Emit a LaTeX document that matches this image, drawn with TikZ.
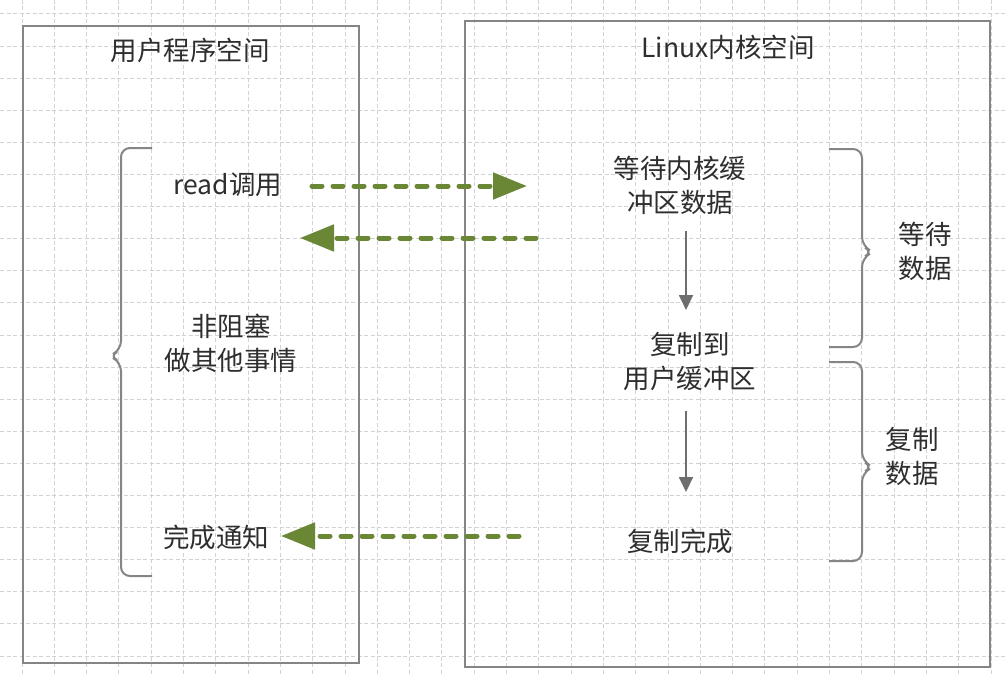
\documentclass[tikz,border=0pt]{standalone}
\usepackage{fontspec}
\setmainfont{Noto Sans CJK SC}
\usetikzlibrary{arrows.meta}
\definecolor{gridc}{HTML}{D2D2D2}
\definecolor{boxc}{HTML}{858585}
\definecolor{greenc}{HTML}{6A8736}
\definecolor{txtc}{HTML}{2E2E2E}
\definecolor{arrc}{HTML}{6E6E6E}
\tikzset{
  gridline/.style={draw=gridc, line width=1pt, dash pattern=on 4pt off 2.5pt},
  panel/.style={draw=boxc, line width=2.2pt},
  lbl/.style={text=txtc, font=\fontsize{26.5}{34}\selectfont, align=center, inner sep=0pt},
  garrow/.style={draw=greenc, line width=5pt, line cap=round, dash pattern=on 10pt off 11pt,
     -{Triangle[length=34pt,width=26pt,fill=greenc,line cap=butt]}},
  karrow/.style={draw=arrc, line width=1.8pt, -{Triangle[length=15pt,width=14pt]}},
  bracec/.style={draw=boxc, line width=2pt, rounded corners=9pt},
}
\begin{document}
\begin{tikzpicture}[x=1pt,y=-1pt]
\useasboundingbox (0,0) rectangle (1006,674);
\fill[white] (0,0) rectangle (1006,674);
% grid
\foreach \k in {0,...,30} { \draw[gridline] ({22+32.3*\k},0) -- ({22+32.3*\k},674); }
\foreach \k in {0,...,20} { \draw[gridline] (0,{14+32.1*\k}) -- (1006,{14+32.1*\k}); }
% panels
\node[panel, minimum width=336pt, minimum height=637pt, inner sep=0pt] (user) at (191,344.5) {};
\node[panel, minimum width=525pt, minimum height=646pt, inner sep=0pt] (kernel) at (727.5,344) {};
% titles
\node[lbl] (usertitle) at (190,50) {用户程序空间};
\node[lbl] (kerneltitle) at (728,47) {Linux内核空间};
% left texts
\node[lbl] (read) at (228,185) {read调用};
\node[lbl] (nonblock) at (231,343) {非阻塞\\做其他事情};
\node[lbl] (notify) at (216,537) {完成通知};
% kernel texts
\node[lbl] (wait) at (680,185) {等待内核缓\\冲区数据};
\node[lbl] (copy) at (690,362) {复制到\\用户缓冲区};
\node[lbl] (done) at (680,541) {复制完成};
% brace labels
\node[lbl] (waitdata) at (925,251) {等待\\数据};
\node[lbl] (copydata) at (912,456) {复制\\数据};
% braces
\draw[bracec] (152,148) -| (121,350) -- (109,356) -- (121,362) |- (152,576);
\draw[bracec] (829,149) -| (862,246) -- (873,252) -- (862,258) |- (829,347);
\draw[bracec] (829,362) -| (862,461) -- (873,467) -- (862,473) |- (829,561);
% coordinates for free ends
\coordinate (r1s) at (312,186);
\coordinate (r1e) at (527,186);
\coordinate (r2s) at (536,238);
\coordinate (r2e) at (300,238);
\coordinate (r3s) at (519,536);
\coordinate (r3e) at (281,536);
% green dashed arrows
\draw[garrow] (r1s) -- (r1e);
\draw[garrow] (r2s) -- (r2e);
\draw[garrow] (r3s) -- (r3e);
% kernel arrows
\coordinate (k1s) at (686,231);
\coordinate (k1e) at (686,310);
\coordinate (k2s) at (686,411);
\coordinate (k2e) at (686,492);
\draw[karrow] (k1s) -- (k1e);
\draw[karrow] (k2s) -- (k2e);
\end{tikzpicture}
\end{document}
